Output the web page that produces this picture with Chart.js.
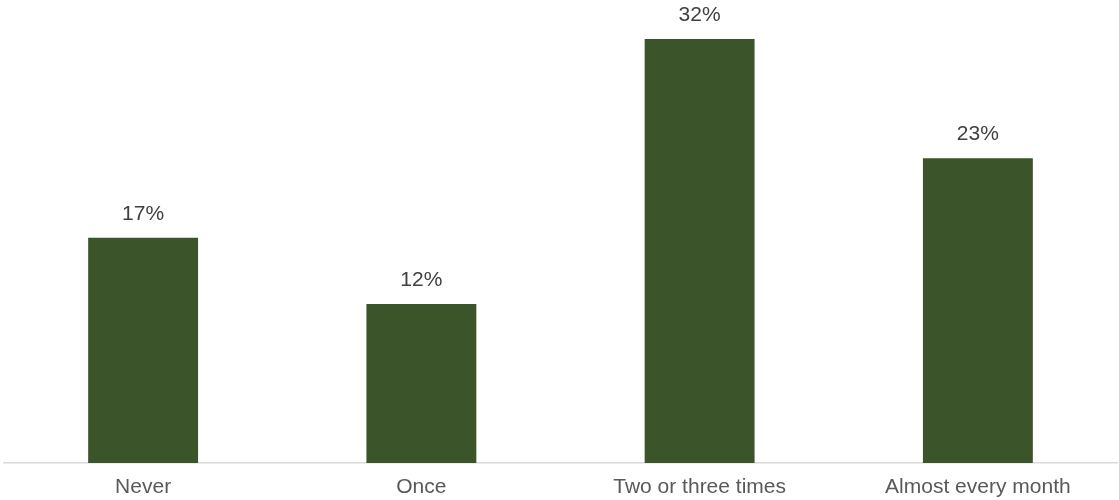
<!DOCTYPE html>
<html>
<head>
<meta charset="utf-8">
<script src="https://cdn.jsdelivr.net/npm/chart.js@4.4.1/dist/chart.umd.min.js"></script>
<style>
html,body{margin:0;padding:0;background:#fff;}
#wrap{width:1119px;height:500px;position:relative;}
</style>
</head>
<body>
<div id="wrap"><canvas id="c"></canvas></div>
<script>
const categories = ["Never", "Once", "Two or three times", "Almost every month"];
const values = [17, 12, 32, 23];
const valueLabels = ["17%", "12%", "32%", "23%"];

const labelPlugin = {
  id: 'valueLabels',
  afterDatasetsDraw(chart) {
    const ctx = chart.ctx;
    const meta = chart.getDatasetMeta(0);
    ctx.save();
    ctx.font = '21px "Liberation Sans", Arial, sans-serif';
    ctx.fillStyle = '#404040';
    ctx.textAlign = 'center';
    ctx.textBaseline = 'middle';
    meta.data.forEach((bar, i) => {
      ctx.fillText(valueLabels[i], bar.x, bar.y - 24);
    });
    ctx.restore();
  }
};

new Chart(document.getElementById('c'), {
  type: 'bar',
  data: {
    labels: categories,
    datasets: [{
      data: values,
      backgroundColor: '#3B5429',
      categoryPercentage: 1,
      barPercentage: 0.395
    }]
  },
  options: {
    responsive: true,
    maintainAspectRatio: false,
    animation: false,
    layout: { padding: { top: 12.5, left: 4, right: 2, bottom: 0 } },
    plugins: { legend: { display: false }, tooltip: { enabled: false } },
    scales: {
      x: {
        grid: { display: false, drawTicks: false },
        border: { display: true, color: '#d9d9d9', width: 1.5 },
        ticks: {
          color: '#595959',
          font: { family: '"Liberation Sans", Arial, sans-serif', size: 21 },
          padding: 12,
          maxRotation: 0,
          autoSkip: false
        },
        afterFit(scale) { scale.height = 37; }
      },
      y: {
        display: false,
        min: 0,
        max: 34
      }
    }
  },
  plugins: [labelPlugin]
});
</script>
</body>
</html>
